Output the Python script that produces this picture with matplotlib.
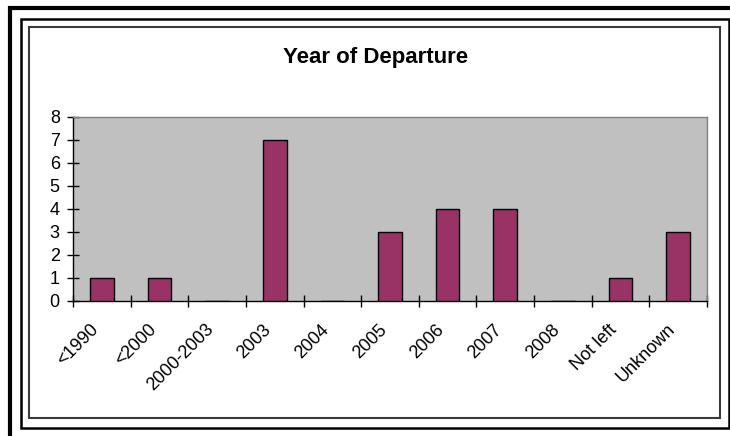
import matplotlib
matplotlib.use("Agg")
import matplotlib.pyplot as plt
from matplotlib.patches import Rectangle
from matplotlib.lines import Line2D
from matplotlib.transforms import ScaledTranslation
import numpy as np

categories = ['<1990', '<2000', '2000-2003', '2003', '2004', '2005',
              '2006', '2007', '2008', 'Not left', 'Unknown']
counts = [1, 1, 0, 7, 0, 3, 4, 4, 0, 1, 3]

plt.rcParams['font.family'] = ['Liberation Sans', 'DejaVu Sans']

W, H = 730, 436
fig = plt.figure(figsize=(W / 100, H / 100), dpi=100)

def px(x, y):
    # pixel coords (from top-left) to figure fraction
    return x / W, 1 - y / H

# outer heavy rule on the top and left edges
fig.add_artist(Line2D([8 / W, 1], [1 - 8 / H, 1 - 8 / H], color='black', lw=3.0,
                      transform=fig.transFigure, solid_capstyle='butt'))
fig.add_artist(Line2D([10 / W, 10 / W], [0, 1 - 6 / H], color='black', lw=3.0,
                      transform=fig.transFigure, solid_capstyle='butt'))

# black frame
x0, y0 = px(21, 427.5)
x1, y1 = px(728.5, 19)
fig.add_artist(Rectangle((x0, y0), x1 - x0, y1 - y0, fill=False, ec='black',
                         lw=1.8, transform=fig.transFigure))

# chart area border
x0, y0 = px(29, 418)
x1, y1 = px(720, 27)
fig.add_artist(Rectangle((x0, y0), x1 - x0, y1 - y0, fill=False, ec='#3a3a3a',
                         lw=1.5, transform=fig.transFigure))

left, right, top, bottom = 73, 707, 117, 300.5
ax = fig.add_axes([left / W, 1 - bottom / H, (right - left) / W, (bottom - top) / H])
ax.set_facecolor('#c0c0c0')

pos = np.arange(len(categories)) + 0.5
ax.bar(pos, counts, width=0.41, color='#993366', edgecolor='black', linewidth=1.0, zorder=3)

ax.set_xlim(0, len(categories))
ax.set_ylim(0, 8)
ax.set_yticks(range(0, 9))
ax.set_xticks(np.arange(0, len(categories) + 1))
ax.set_xticklabels([])
ax.set_xticks(pos, minor=True)
ax.set_xticklabels(categories, minor=True, rotation=45, ha='right', va='center',
                   rotation_mode='anchor', fontsize=13)
ax.tick_params(axis='x', which='minor', length=0, pad=17)
ax.tick_params(axis='x', which='major', direction='inout', length=9, width=1, color='black')
ax.tick_params(axis='y', direction='inout', length=9, width=1, color='black',
               labelsize=13, pad=5)

# nudge the slanted labels a little left and down
shift = ScaledTranslation(-6 / 100, -3 / 100, fig.dpi_scale_trans)
for lab in ax.get_xticklabels(minor=True):
    lab.set_transform(lab.get_transform() + shift)

ax.spines['left'].set_color('black')
ax.spines['bottom'].set_color('black')
ax.spines['top'].set_color('#808080')
ax.spines['right'].set_color('#808080')
for s in ax.spines.values():
    s.set_linewidth(1.0)

tx, ty = px(376, 58)
fig.text(tx, ty, 'Year of Departure', ha='center', va='center',
         fontsize=16, fontweight='bold')

fig.savefig('out.png', dpi=100)
